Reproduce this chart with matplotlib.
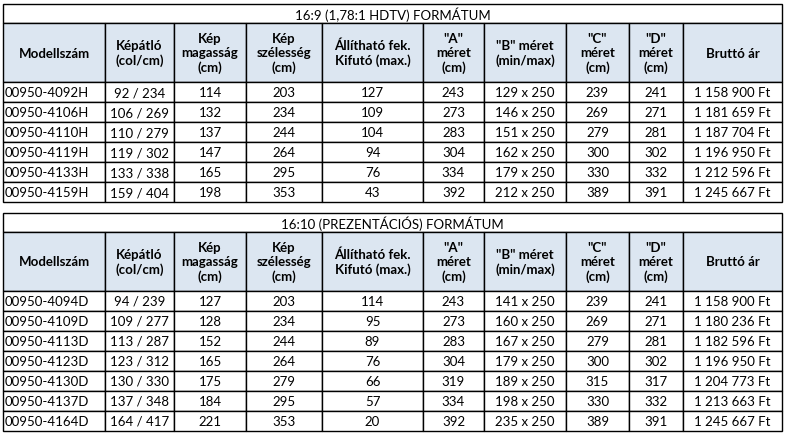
import matplotlib
matplotlib.use("Agg")
import matplotlib.pyplot as plt
from matplotlib.patches import Rectangle

headers = ["Modellszám", "Képátló\n(col/cm)", "Kép\nmagasság\n(cm)", "Kép\nszélesség\n(cm)",
           "Állítható fek.\nKifutó (max.)", "\"A\"\nméret\n(cm)", "\"B\" méret\n(min/max)",
           "\"C\"\nméret\n(cm)", "\"D\"\nméret\n(cm)", "Bruttó ár"]

title1 = "16:9 (1,78:1 HDTV) FORMÁTUM"
models1 = ["00950-4092H", "00950-4106H", "00950-4110H", "00950-4119H", "00950-4133H", "00950-4159H"]
diag1 = ["92 / 234", "106 / 269", "110 / 279", "119 / 302", "133 / 338", "159 / 404"]
height1 = [114, 132, 137, 147, 165, 198]
width1 = [203, 234, 244, 264, 295, 353]
drop1 = [127, 109, 104, 94, 76, 43]
a1 = [243, 273, 283, 304, 334, 392]
b1 = ["129 x 250", "146 x 250", "151 x 250", "162 x 250", "179 x 250", "212 x 250"]
c1 = [239, 269, 279, 300, 330, 389]
d1 = [241, 271, 281, 302, 332, 391]
price1 = ["1 158 900 Ft", "1 181 659 Ft", "1 187 704 Ft", "1 196 950 Ft", "1 212 596 Ft", "1 245 667 Ft"]

title2 = "16:10 (PREZENTÁCIÓS) FORMÁTUM"
models2 = ["00950-4094D", "00950-4109D", "00950-4113D", "00950-4123D", "00950-4130D", "00950-4137D", "00950-4164D"]
diag2 = ["94 / 239", "109 / 277", "113 / 287", "123 / 312", "130 / 330", "137 / 348", "164 / 417"]
height2 = [127, 128, 152, 165, 175, 184, 221]
width2 = [203, 234, 244, 264, 279, 295, 353]
drop2 = [114, 95, 89, 76, 66, 57, 20]
a2 = [243, 273, 283, 304, 319, 334, 392]
b2 = ["141 x 250", "160 x 250", "167 x 250", "179 x 250", "189 x 250", "198 x 250", "235 x 250"]
c2 = [239, 269, 279, 300, 315, 330, 389]
d2 = [241, 271, 281, 302, 317, 332, 391]
price2 = ["1 158 900 Ft", "1 180 236 Ft", "1 182 596 Ft", "1 196 950 Ft", "1 204 773 Ft", "1 213 663 Ft", "1 245 667 Ft"]

plt.rcParams['font.family'] = ['Lato', 'DejaVu Sans']
fig = plt.figure(figsize=(7.86, 4.33), dpi=100)
ax = fig.add_axes([0, 0, 1, 1])
ax.set_xlim(0, 786)
ax.set_ylim(433, 0)
ax.axis('off')

cols = [3, 105, 174, 246, 322, 423, 484, 566, 629, 683, 782]
HDR = "#dce6f1"
FS = 9.5

def draw_table(top, title, rows):
    title_h, hdr_h, row_h = 19, 59, 20
    L, R = cols[0], cols[-1]
    ax.add_patch(Rectangle((L, top), R - L, title_h, fc="white", ec="black", lw=1))
    ax.text((L + R) / 2, top + title_h / 2 + 1, title, ha="center", va="center", fontsize=FS)
    y = top + title_h
    for i in range(len(cols) - 1):
        x0, x1 = cols[i], cols[i + 1]
        ax.add_patch(Rectangle((x0, y), x1 - x0, hdr_h, fc=HDR, ec="black", lw=1))
        ax.text((x0 + x1) / 2, y + hdr_h / 2 + 1, headers[i], ha="center", va="center",
                fontsize=FS, fontweight="bold", linespacing=1.2)
    y += hdr_h
    for r in rows:
        for i in range(len(cols) - 1):
            x0, x1 = cols[i], cols[i + 1]
            ax.add_patch(Rectangle((x0, y), x1 - x0, row_h, fc="white", ec="black", lw=1))
            if i == 0:
                ax.text(x0 + 2, y + row_h / 2 + 1, str(r[i]), ha="left", va="center", fontsize=FS)
            else:
                ax.text((x0 + x1) / 2, y + row_h / 2 + 1, str(r[i]), ha="center", va="center", fontsize=FS)
        y += row_h

rows1 = list(zip(models1, diag1, height1, width1, drop1, a1, b1, c1, d1, price1))
rows2 = list(zip(models2, diag2, height2, width2, drop2, a2, b2, c2, d2, price2))
draw_table(4, title1, rows1)
draw_table(213, title2, rows2)

fig.savefig("out.png", dpi=100, facecolor="white")
